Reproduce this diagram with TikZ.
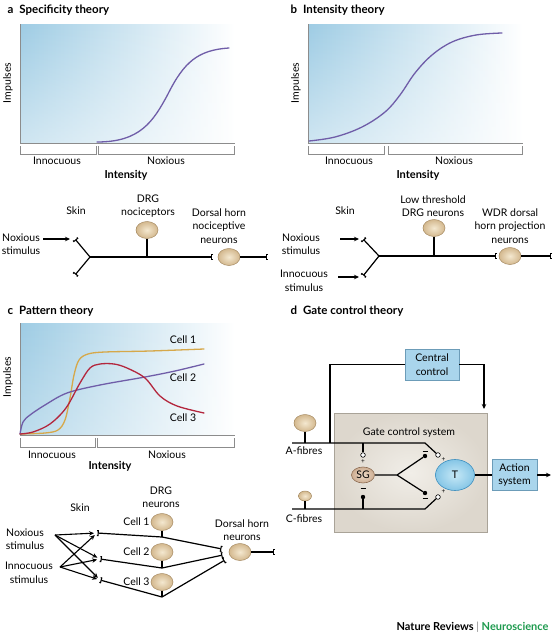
\documentclass[tikz,border=0pt]{standalone}
\usepackage{fontspec}
\setmainfont{Lato}
\usetikzlibrary{arrows.meta,shapes.geometric,fadings}
\definecolor{plotblue}{HTML}{9ECCE4}
\definecolor{curvepurple}{HTML}{6F5DA8}
\definecolor{cellgold}{HTML}{D6A84A}
\definecolor{cellred}{HTML}{B3263D}
\definecolor{axisgray}{HTML}{8C8C8C}
\definecolor{neuronin}{HTML}{F4E8D0}
\definecolor{neuronout}{HTML}{D3B88E}
\definecolor{neuronline}{HTML}{A58A62}
\definecolor{boxblue}{HTML}{A9D5EC}
\definecolor{boxblueline}{HTML}{6C9CB8}
\definecolor{gcin}{HTML}{F1EEE8}
\definecolor{gcout}{HTML}{DDD7CD}
\definecolor{gcline}{HTML}{A9A398}
\definecolor{tin}{HTML}{C6E8F6}
\definecolor{tout}{HTML}{86C6E6}
\definecolor{tline}{HTML}{3C8EBE}
\definecolor{sgin}{HTML}{EBD8C6}
\definecolor{sgout}{HTML}{CDAE92}
\definecolor{sgline}{HTML}{8E6E55}
\definecolor{natgreen}{HTML}{1E9A4E}
\begin{document}
\begin{tikzpicture}[x=1pt,y=-1pt,
  font=\fontsize{10.5}{13.5}\selectfont,
  title/.style={font=\fontsize{11.5}{13}\selectfont\bfseries, anchor=west},
  axislbl/.style={font=\fontsize{11}{13}\selectfont\bfseries},
  axisline/.style={draw=axisgray, line width=0.7pt},
  brk/.style={draw=axisgray, line width=0.7pt},
  curve/.style={line width=1.3pt, line cap=round},
  nerve/.style={line width=1.2pt},
  term/.style={line width=1.2pt, -{Bracket[reversed,width=6pt,length=1.2pt,line width=1.1pt]}},
  arr/.style={line width=1.1pt, -{Stealth[length=5pt,width=4.5pt]}},
  neuron/.style={ellipse, minimum width=22pt, minimum height=17pt, inner sep=0pt,
     inner color=neuronin, outer color=neuronout, draw=neuronline, line width=0.5pt},
  bluebox/.style={rectangle, fill=boxblue, draw=boxblueline, line width=0.6pt, align=center, inner sep=0pt},
  fade/.style={fill=white, path fading=north, fill opacity=0.5},
  bg/.style={left color=plotblue, right color=white},
  dot/.style={circle, fill=black, inner sep=0pt, minimum size=4.4pt},
  odot/.style={circle, draw=black, fill=white, line width=0.6pt, inner sep=0pt, minimum size=4.6pt},
  sign/.style={font=\fontsize{6.5}{6.5}\selectfont, inner sep=0pt}
]
\useasboundingbox (0,0) rectangle (555,637);

% ================= Panel a =================
\node[title] (ta) at (4,10) {a\hspace{6pt}Specificity theory};
\shade[bg] (20,24) rectangle (235,143);
\fill[fade] (20,24) rectangle (235,143);
\draw[axisline] (20,24) -- (20,143) -- (235,143);
\draw[curve, curvepurple] (97,142) .. controls (140,142) and (153,122) .. (168,94)
   .. controls (184,62) and (198,50) .. (229,48);
\draw[brk] (20,146) -- (20,154) -- (96,154) -- (96,146);
\draw[brk] (98,146) -- (98,154) -- (234,154) -- (234,146);
\node (ina) at (57,161) {Innocuous};
\node (noa) at (166,161) {Noxious};
\node[axislbl] (xa) at (126,175) {Intensity};
\node[rotate=90] (ya) at (8,83) {Impulses};

\node (skA) at (76,211) {Skin};
\node[align=center] (drgtA) at (148,206) {DRG\\nociceptors};
\node[align=center] (dhtA) at (219,226) {Dorsal horn\\nociceptive\\neurons};
\node[align=center] (nxA) at (21,244) {Noxious\\stimulus};
\node[neuron] (drgA) at (147,230) {};
\node[neuron] (dhA) at (229,257) {};
\coordinate (jA) at (90,257);
\coordinate (sA1) at (75,239);
\coordinate (sA2) at (75,275);
\coordinate (pA) at (213,257);
\coordinate (oA) at (268,257);
\coordinate (aA) at (43,239);
\coordinate (aAe) at (70,239);
\draw[term] (jA) -- (sA1);
\draw[term] (jA) -- (sA2);
\draw[term] (jA) -- (pA);
\draw[nerve] (drgA.south) -- (drgA |- jA);
\draw[term] (dhA.east) -- (oA);
\draw[arr] (aA) -- (aAe);

% ================= Panel b =================
\node[title] (tb) at (287,10) {b\hspace{6pt}Intensity theory};
\shade[bg] (308,24) rectangle (523,143);
\fill[fade] (308,24) rectangle (523,143);
\draw[axisline] (308,24) -- (308,143) -- (523,143);
\draw[curve, curvepurple] plot[smooth, tension=0.6] coordinates {(309,141) (335,137) (362,127) (385,112) (400,95) (415,73) (432,55) (452,42) (476,35) (502,33)};
\draw[brk] (308,146) -- (308,154) -- (384,154) -- (384,146);
\draw[brk] (388,146) -- (388,154) -- (522,154) -- (522,146);
\node (inb) at (349,161) {Innocuous};
\node (nob) at (454,161) {Noxious};
\node[axislbl] (xb) at (418,175) {Intensity};
\node[rotate=90] (yb) at (296,83) {Impulses};

\node (skB) at (345,211) {Skin};
\node[align=center] (drgtB) at (433,206) {Low threshold\\DRG neurons};
\node[align=center] (dhtB) at (510,226) {WDR dorsal\\horn projection\\neurons};
\node[align=center] (nxB) at (301,244) {Noxious\\stimulus};
\node[align=center] (inB) at (304,281) {Innocuous\\stimulus};
\node[neuron] (drgB) at (434,228) {};
\node[neuron] (dhB) at (510,256) {};
\coordinate (jB) at (379,256);
\coordinate (sB1) at (363,239);
\coordinate (sB2) at (363,276);
\coordinate (pB) at (497,256);
\coordinate (oB) at (552,256);
\draw[term] (jB) -- (sB1);
\draw[term] (jB) -- (sB2);
\draw[term] (jB) -- (pB);
\draw[nerve] (drgB.south) -- (drgB |- jB);
\draw[term] (dhB.east) -- (oB);
\draw[arr] (340,239) -- (359,239);
\draw[arr] (338,277) -- (359,277);

% ================= Panel c =================
\node[title] (tc) at (4,311) {c\hspace{6pt}Pattern theory};
\shade[bg] (20,323) rectangle (235,435);
\fill[fade, fill opacity=0.3] (20,323) rectangle (235,435);
\draw[axisline] (20,323) -- (20,435) -- (235,435);
\draw[curve, cellgold] plot[smooth, tension=0.55] coordinates {(20,434) (45,433) (58,430) (65,420) (70,398) (74,375) (79,360) (88,354) (105,352) (150,351) (204,349)};
\draw[curve, curvepurple] plot[smooth, tension=0.55] coordinates {(20,434) (23,422) (30,415) (45,405) (67,393) (100,385) (145,377) (175,371) (204,364)};
\draw[curve, cellred] plot[smooth, tension=0.55] coordinates {(20,434) (33,432) (50,424) (66,408) (80,383) (90,368) (100,364) (114,364) (127,368) (145,378) (160,396) (177,406) (204,413)};
\node (c1l) at (183,340) {Cell 1};
\node (c2l) at (183,378) {Cell 2};
\node (c3l) at (183,418) {Cell 3};
\draw[brk] (20,438) -- (20,447) -- (95,447) -- (95,438);
\draw[brk] (97,438) -- (97,447) -- (234,447) -- (234,438);
\node (inc) at (52,455) {Innocuous};
\node (noc) at (167,455) {Noxious};
\node[axislbl] (xc) at (110,466) {Intensity};
\node[rotate=90] (yc) at (8,377) {Impulses};

\node[align=center] (drgtC) at (161,497) {DRG\\neurons};
\node (skC) at (80,508) {Skin};
\node[align=center] (dhtC) at (242,530) {Dorsal horn\\neurons};
\node[align=center] (nxC) at (25,539) {Noxious\\stimulus};
\node[align=center] (inC) at (29,573) {Innocuous\\stimulus};
\node[neuron] (c1) at (162,522) {};
\node[neuron] (c2) at (162,552) {};
\node[neuron] (c3) at (162,582) {};
\node[anchor=east, inner sep=1pt] (c1t) at (c1.west) {Cell 1};
\node[anchor=east, inner sep=1pt] (c2t) at (c2.west) {Cell 2};
\node[anchor=east, inner sep=1pt] (c3t) at (c3.west) {Cell 3};
\node[neuron] (dhC) at (240,552) {};
\coordinate (b1) at (162,537);
\coordinate (b2) at (162,568);
\coordinate (b3) at (162,597);
\coordinate (T1) at (97,533);
\coordinate (T2) at (100,559);
\coordinate (T3) at (100,580);
\coordinate (d1) at (222,549);
\coordinate (d2) at (223,555);
\coordinate (d3) at (225,560);
\coordinate (oC) at (275,552);
\coordinate (nS) at (55,535);
\coordinate (iS) at (60,567);
\draw[nerve] (c1.south) -- (b1);
\draw[nerve] (c2.south) -- (b2);
\draw[nerve] (c3.south) -- (b3);
\draw[term] (b1) -- (T1);
\draw[term] (b2) -- (T2);
\draw[term] (b3) -- (T3);
\draw[term] (b1) -- (d1);
\draw[term] (b2) -- (d2);
\draw[term] (b3) -- (d3);
\draw[term] (dhC.east) -- (oC);
\foreach \t in {T1,T2,T3}{
  \draw[arr, shorten >=3pt] (nS) -- (\t);
  \draw[arr, shorten >=3pt] (iS) -- (\t);
}

% ================= Panel d =================
\node[title] (td) at (287,311) {d\hspace{6pt}Gate control theory};
\node[rectangle, minimum width=153pt, minimum height=119pt, inner sep=0pt,
      inner color=gcin, outer color=gcout, draw=gcline, line width=0.6pt] (gcs) at (410.5,472.5) {};
\node (gct) at (409,433) {Gate control system};
\node[bluebox, minimum width=54pt, minimum height=31pt] (cc) at (432,364.5) {Central\\control};
\node[bluebox, minimum width=45pt, minimum height=31pt] (act) at (514.5,475) {Action\\system};
\node[ellipse, minimum width=39pt, minimum height=31pt, inner sep=0pt,
      inner color=tin, outer color=tout, draw=tline, line width=0.6pt] (T) at (455,475) {T};
\node[ellipse, minimum width=23pt, minimum height=16pt, inner sep=0pt,
      inner color=sgin, outer color=sgout, draw=sgline, line width=0.6pt] (sg) at (363,475) {SG};
\node[neuron] (af) at (305,423) {};
\node[neuron, minimum width=13pt, minimum height=10pt] (cf) at (305,496) {};
\node (afl) at (304,451) {A-fibres};
\node (cfl) at (304,519) {C-fibres};

\coordinate (a0) at (292,443);
\coordinate (a1) at (425,443);
\coordinate (c0) at (292,509);
\coordinate (c1d) at (425,509);
\node[odot] (oa) at (438,455) {};
\node[odot] (oc) at (438,497) {};
\node[odot] (osg) at (363,455) {};
\node[dot] (dsg) at (363,497) {};
\node[dot] (du) at (425,456) {};
\node[dot] (dl) at (425,493) {};
\coordinate (jf) at (397,475);
\coordinate (ccdown) at (484,409);

\draw[nerve] (a0) -- (a1) -- (oa);
\draw[nerve] (c0) -- (c1d) -- (oc);
\draw[nerve] (af.south) -- (af |- a0);
\draw[nerve] (cf.south) -- (cf |- c0);
\draw[nerve] (363,443) -- (osg);
\draw[nerve] (dsg) -- (363,509);
\draw[nerve] (sg.east) -- (jf) -- (du);
\draw[nerve] (jf) -- (dl);
\draw[nerve] (330,443) |- (cc.west);
\draw[arr] (cc.east) -| (ccdown);
\draw[nerve] (T.east) -- (act.west);
\draw[arr] (act.east) -- (551,475);
\node[sign] (p1) at (363,461.5) {+};
\node[sign] (p2) at (443.5,459.5) {+};
\node[sign] (p3) at (443.5,491.5) {+};
\draw[line width=0.8pt] (360.5,488.5) -- (365.5,488.5);
\draw[line width=0.8pt] (422.5,451) -- (427.5,451);
\draw[line width=0.8pt] (422.5,498.5) -- (427.5,498.5);

% footer
\node[anchor=east, font=\fontsize{11}{13}\selectfont\bfseries] (foot) at (552,627)
  {Nature Reviews {\color{axisgray}\mdseries|} {\color{natgreen}Neuroscience}};
\end{tikzpicture}
\end{document}
